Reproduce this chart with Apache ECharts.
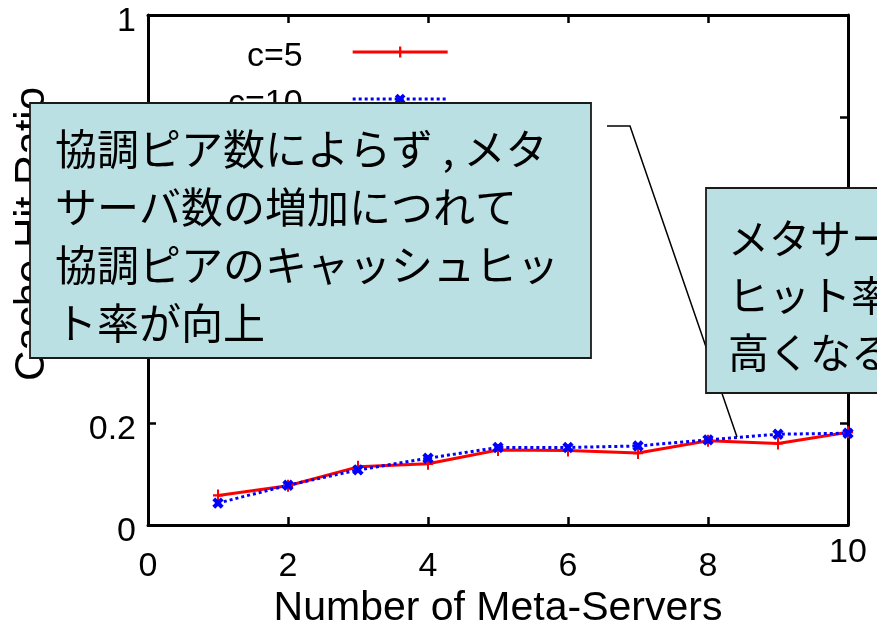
<!DOCTYPE html>
<html><head><meta charset="utf-8">
<script src="https://cdn.jsdelivr.net/npm/echarts@6/dist/echarts.min.js"></script>
<style>html,body{margin:0;padding:0;background:#fff}#c{width:877px;height:636px}</style>
</head><body><div id="c"></div>
<script>
const servers = [1, 2, 3, 4, 5, 6, 7, 8, 9, 10];
const hitC5  = [0.058, 0.077, 0.114, 0.120, 0.147, 0.146, 0.141, 0.165, 0.160, 0.182];
const hitC10 = [0.043, 0.078, 0.108, 0.131, 0.152, 0.152, 0.155, 0.167, 0.178, 0.180];
const seriesNames = ['c=5', 'c=10'];
const xAxisTitle = 'Number of Meta-Servers';
const yAxisTitle = 'Cache Hit Ratio';
const note1 = '協調ピア数によらず , メタ\nサーバ数の増加につれて\n協調ピアのキャッシュヒッ\nト率が向上';
const note2 = 'メタサーバ数が多いほど\nヒット率が\n高くなる';

const FONT = '"Liberation Sans", Arial, sans-serif';
const JP = '"Noto Sans CJK JP", sans-serif';
const plusPath = 'path://M4,0H6V4H10V6H6V10H4V6H0V4H4Z';
const crossPath = 'path://M3.3,0H6.7V3.3H10V6.7H6.7V10H3.3V6.7H0V3.3H3.3Z';

const chart = echarts.init(document.getElementById('c'), null, {renderer: 'canvas'});

function axisLine() { return {show: true, onZero: false, lineStyle: {color: '#000', width: 3}}; }
function axisTick() { return {show: true, inside: true, length: 8, lineStyle: {color: '#000', width: 2.5}}; }

chart.setOption({
  animation: false,
  backgroundColor: '#fff',
  grid: {left: 148, right: 29, top: 15, bottom: 111, containLabel: false, outerBoundsMode: 'none'},
  legend: {
    orient: 'vertical', left: 228, top: 40, padding: 0,
    align: 'right', itemWidth: 95, itemHeight: 14, itemGap: 13,
    data: seriesNames,
    formatter: name => '{t|' + name + '}',
    lineStyle: {width: 3},
    textStyle: {fontFamily: FONT, fontSize: 34, color: '#000',
      rich: {t: {fontFamily: FONT, fontSize: 34, color: '#000', width: 60, align: 'right', padding: [10, 45, 0, 0]}}}
  },
  xAxis: [{
    type: 'value', min: 0, max: 10, interval: 2, position: 'bottom',
    axisLine: axisLine(), axisTick: axisTick(), splitLine: {show: false},
    axisLabel: {
      margin: 42, verticalAlign: 'middle', fontFamily: FONT, fontSize: 34, color: '#000',
      formatter: v => v === 10 ? '{a|10}\n{b|}' : String(v),
      rich: {a: {fontFamily: FONT, fontSize: 34, lineHeight: 34, color: '#000'}, b: {lineHeight: 28}}
    },
    name: xAxisTitle, nameLocation: 'middle', nameGap: 63, nameMoveOverlap: false,
    nameTextStyle: {fontFamily: FONT, fontSize: 41, color: '#000'}
  }, {
    type: 'value', min: 0, max: 10, interval: 2, position: 'top',
    axisLine: axisLine(), axisTick: axisTick(), axisLabel: {show: false}, splitLine: {show: false}
  }],
  yAxis: [{
    type: 'value', min: 0, max: 1, interval: 0.2, position: 'left',
    axisLine: axisLine(), axisTick: axisTick(), splitLine: {show: false},
    axisLabel: {margin: 12, verticalAlign: 'middle', fontFamily: FONT, fontSize: 34, color: '#000',
      formatter: v => '{b|}\n{a|' + String(Math.round(v * 10) / 10) + '}',
      rich: {a: {fontFamily: FONT, fontSize: 34, lineHeight: 34, color: '#000'}, b: {lineHeight: 14}}},
    name: yAxisTitle, nameLocation: 'middle', nameGap: 95, nameMoveOverlap: false,
    nameTextStyle: {fontFamily: FONT, fontSize: 42, color: '#000', padding: [0, 0, 0, 72]}
  }, {
    type: 'value', min: 0, max: 1, interval: 0.2, position: 'right',
    axisLine: axisLine(), axisTick: axisTick(), axisLabel: {show: false}, splitLine: {show: false}
  }],
  series: [{
    name: seriesNames[0], type: 'line',
    data: servers.map((x, i) => [x, hitC5[i]]),
    symbol: plusPath, symbolSize: [10, 12], showAllSymbol: true,
    lineStyle: {color: '#ff0000', width: 3, type: 'solid'},
    itemStyle: {color: '#ff0000'}
  }, {
    name: seriesNames[1], type: 'line',
    data: servers.map((x, i) => [x, hitC10[i]]),
    symbol: crossPath, symbolSize: 12, symbolRotate: 45, showAllSymbol: true,
    lineStyle: {color: '#0000ff', width: 3, type: [3, 3]},
    itemStyle: {color: '#0000ff'}
  }],
  graphic: [
    {type: 'polyline', z: 90, shape: {points: [[607, 126], [630, 126], [737, 437]]},
      style: {stroke: '#000', lineWidth: 1.5, fill: null}},
    {type: 'rect', z: 100, shape: {x: 30, y: 103, width: 561, height: 255},
      style: {fill: '#bbe0e3', stroke: '#1a1a1a', lineWidth: 1.8}},
    {type: 'text', z: 101, x: 55, y: 120,
      style: {text: note1, fontFamily: JP, fontSize: 42, lineHeight: 58, fill: '#000', verticalAlign: 'top'}},
    {type: 'rect', z: 100, shape: {x: 706, y: 188, width: 300, height: 205},
      style: {fill: '#bbe0e3', stroke: '#1a1a1a', lineWidth: 1.8}},
    {type: 'text', z: 101, x: 728, y: 210,
      style: {text: note2, fontFamily: JP, fontSize: 41, lineHeight: 57, fill: '#000', verticalAlign: 'top'}}
  ]
});
</script></body></html>
